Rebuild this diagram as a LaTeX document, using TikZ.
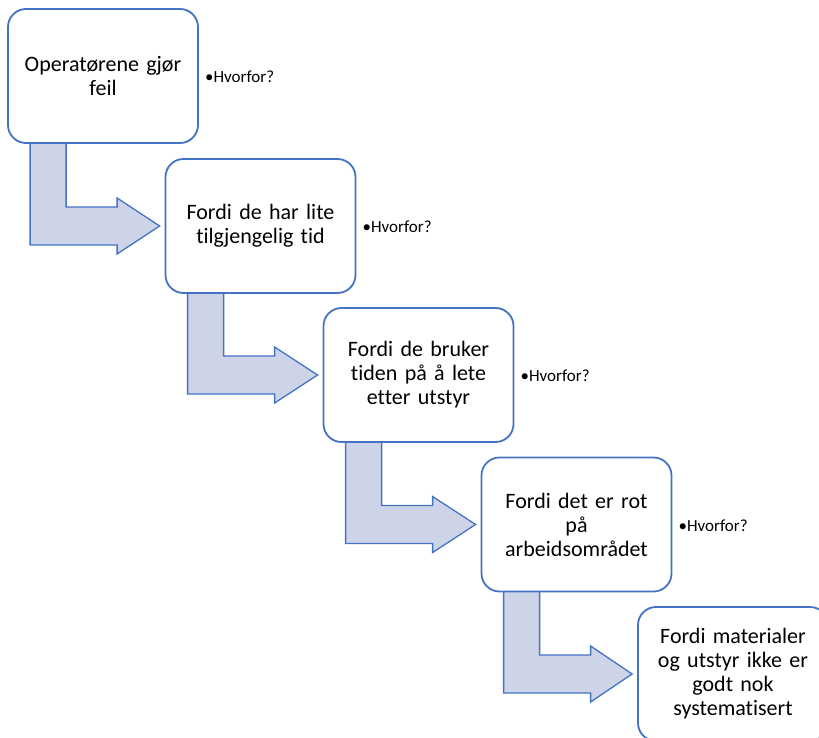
\documentclass[tikz,border=0pt]{standalone}
\usepackage{fontspec}
\setmainfont{Carlito}[Ligatures={NoCommon}]
\usetikzlibrary{calc,backgrounds}
\definecolor{accent}{HTML}{4472C4}
\definecolor{arrowfill}{HTML}{CDD4E8}
\tikzset{
  stepbox/.style={draw=accent, line width=1.8pt, fill=white, rounded corners=18pt,
    minimum width=190pt, minimum height=134pt, inner sep=0pt,
    text width=180pt, align=center, font=\fontsize{22}{24}\selectfont},
  why/.style={anchor=west, inner sep=0pt, font=\fontsize{17}{20}\selectfont},
  bentarrow/.style={draw=accent, line width=1.3pt, fill=arrowfill, line join=miter}
}
\begin{document}
\begin{tikzpicture}[x=1pt, y=-1pt]
\useasboundingbox (0,0) rectangle (819,738);
\clip (0,0) rectangle (819,738);

% the five steps of the chain
\node[stepbox] (b1) at (103,76) {Operatørene gjør\\feil};
\node[stepbox] (b2) at (260.5,226) {Fordi de har lite\\tilgjengelig tid};
\node[stepbox] (b3) at (418.5,375) {Fordi de bruker\\tiden på å lete\\etter utstyr};
\node[stepbox] (b4) at (576.5,524.5) {Fordi det er rot\\på\\arbeidsområdet};
\node[stepbox] (b5) at (733,674) {Fordi materialer\\og utstyr ikke er\\godt nok\\systematisert};

\foreach \i in {1,2,3,4}{
  \node[why] (h\i) at ($(b\i.east)+(6,1)$) {•Hvorfor?};
}

% bent arrows from each box down and across to the next one
\begin{scope}[on background layer]
\foreach \i/\j in {1/2,2/3,3/4,4/5}{
  \path[bentarrow] let \p1=(b\i.south west), \p2=(b\j.west) in
    (\x1+23pt,\y1+2pt) -- (\x1+59pt,\y1+2pt) -- (\x1+59pt,\y2+19pt)
    -- (\x1+110pt,\y2+19pt) -- (\x1+110pt,\y2+28pt) -- (\x2-5pt,\y2)
    -- (\x1+110pt,\y2-28pt) -- (\x1+110pt,\y2-19pt) -- (\x1+23pt,\y2-19pt) -- cycle;
}
\end{scope}
\end{tikzpicture}
\end{document}
